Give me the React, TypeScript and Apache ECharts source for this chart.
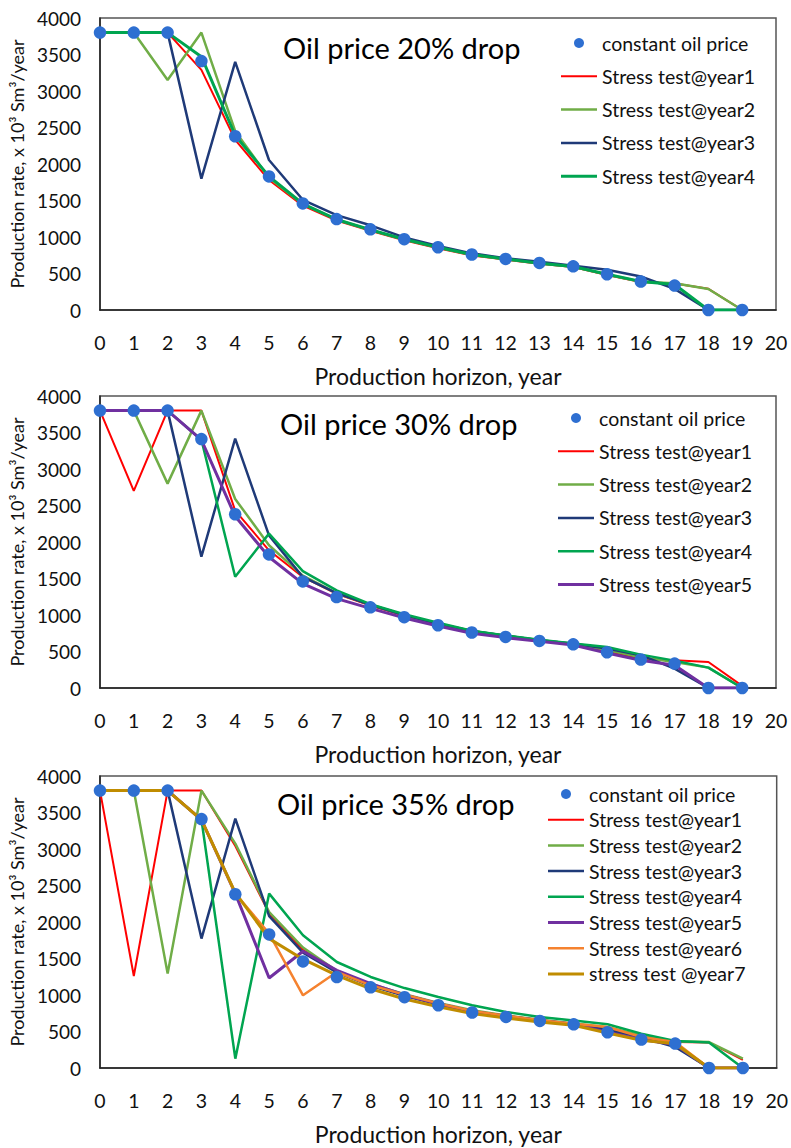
import React, { useEffect, useRef } from "react";
import * as echarts from "echarts";

const years = [0, 1, 2, 3, 4, 5, 6, 7, 8, 9, 10, 11, 12, 13, 14, 15, 16, 17, 18, 19];
const constantPrice = [3800, 3800, 3800, 3410, 2380, 1830, 1460, 1245, 1105, 970, 860, 760, 700, 645, 598, 490, 390, 335, 0, 0];

// Oil price 20% drop
const p20Year1 = [3800, 3800, 3800, 3290, 2330, 1780, 1430, 1225, 1085, 955, 845, 748, 690, 632, 588, 478, 382, 362, 290, 0];
const p20Year2 = [3800, 3800, 3150, 3800, 2450, 1810, 1450, 1240, 1095, 965, 855, 755, 695, 640, 592, 485, 388, 365, 288, 0];
const p20Year3 = [3800, 3800, 3800, 1800, 3400, 2055, 1510, 1300, 1160, 995, 877, 776, 708, 662, 607, 551, 459, 290, 0, 0];
const p20Year4 = [3800, 3800, 3800, 3470, 2390, 1830, 1455, 1240, 1100, 970, 860, 760, 700, 640, 595, 490, 392, 350, 0, 0];

// Oil price 30% drop
const p30Year1 = [3800, 2700, 3800, 3800, 2430, 1886, 1521, 1290, 1130, 990, 875, 770, 710, 650, 600, 505, 400, 379, 356, 30];
const p30Year2 = [3800, 3800, 2800, 3800, 2590, 1955, 1540, 1300, 1140, 1000, 880, 780, 715, 655, 605, 520, 420, 356, 279, 0];
const p30Year3 = [3800, 3800, 3800, 1800, 3416, 2091, 1521, 1300, 1140, 1000, 880, 780, 715, 655, 605, 540, 450, 265, 0, 0];
const p30Year4 = [3800, 3800, 3800, 3400, 1525, 2115, 1600, 1338, 1147, 1010, 895, 785, 720, 660, 610, 562, 457, 375, 279, 0];
const p30Year5 = [3800, 3800, 3800, 3400, 2352, 1795, 1430, 1225, 1090, 960, 850, 750, 690, 640, 590, 479, 380, 311, 0, 0];

// Oil price 35% drop
const p35Year1 = [3800, 1260, 3800, 3800, 3040, 2120, 1620, 1320, 1140, 1000, 880, 780, 715, 655, 605, 550, 440, 355, 350, 110];
const p35Year2 = [3800, 3800, 1293, 3800, 3074, 2137, 1650, 1330, 1150, 1010, 890, 790, 720, 660, 610, 560, 450, 365, 356, 128];
const p35Year3 = [3800, 3800, 3800, 1773, 3416, 2080, 1580, 1310, 1125, 990, 870, 775, 710, 650, 600, 520, 420, 288, 0, 0];
const p35Year4 = [3800, 3800, 3800, 3400, 128, 2389, 1818, 1452, 1247, 1095, 973, 859, 767, 699, 650, 600, 471, 370, 348, 0];
const p35Year5 = [3800, 3800, 3800, 3400, 2389, 1233, 1599, 1338, 1156, 1000, 880, 775, 710, 650, 600, 490, 390, 320, 0, 0];
const p35Year6 = [3800, 3800, 3800, 3400, 2389, 1841, 996, 1315, 1133, 1005, 885, 780, 715, 655, 605, 562, 425, 356, 0, 0];
const p35Year7 = [3800, 3800, 3800, 3400, 2400, 1772, 1490, 1270, 1085, 945, 840, 745, 685, 630, 585, 479, 379, 333, 0, 0];

const panelTitles = ["Oil price 20% drop", "Oil price 30% drop", "Oil price 35% drop"];
const xTickValues = { min: 0, max: 20, interval: 1 };
const yTickValues = { min: 0, max: 4000, interval: 500 };
const xAxisTitle = "Production horizon, year";
const yAxisTitle = "Production rate, x 10\u00B3 Sm\u00B3/year";

const CONST_NAME = "constant oil price";
const colors: Record<string, string> = {
  "Stress test@year1": "#FF0000",
  "Stress test@year2": "#70AD47",
  "Stress test@year3": "#1F3A78",
  "Stress test@year4": "#00A550",
  "Stress test@year5": "#7030A0",
  "Stress test@year6": "#F5822F",
  "stress test @year7": "#C08C00",
};

const panels = [
  {
    lines: [
      ["Stress test@year1", p20Year1, 2],
      ["Stress test@year2", p20Year2, 2.5],
      ["Stress test@year3", p20Year3, 2.5],
      ["Stress test@year4", p20Year4, 3],
    ],
  },
  {
    lines: [
      ["Stress test@year1", p30Year1, 2],
      ["Stress test@year2", p30Year2, 2.5],
      ["Stress test@year3", p30Year3, 2.5],
      ["Stress test@year4", p30Year4, 2.5],
      ["Stress test@year5", p30Year5, 3],
    ],
  },
  {
    lines: [
      ["Stress test@year1", p35Year1, 2],
      ["Stress test@year2", p35Year2, 2.5],
      ["Stress test@year3", p35Year3, 2.5],
      ["Stress test@year4", p35Year4, 2.5],
      ["Stress test@year5", p35Year5, 3],
      ["Stress test@year6", p35Year6, 2.5],
      ["stress test @year7", p35Year7, 3],
    ],
  },
];

const FONT = "Lato, 'Open Sans', sans-serif";

export default function App() {
  const ref = useRef<HTMLDivElement>(null);
  useEffect(() => {
    if (!ref.current) return;
    const chart = echarts.init(ref.current, null, { renderer: "svg" });

    const grids = [
      { left: 100, top: 18, width: 676, height: 292 },
      { left: 99, top: 396, width: 677, height: 292 },
      { left: 96, top: 776, width: 681, height: 292 },
    ];
    const titlePos = [
      [283, 47],
      [280, 423],
      [277, 803],
    ];
    const legendPos = [
      { left: 561, top: 33, itemGap: 13.3 },
      { left: 558, top: 408, itemGap: 13.3 },
      { left: 548, top: 784, itemGap: 5.7 },
    ];

    const series: any[] = [];
    panels.forEach((p, i) => {
      p.lines.forEach(([name, data, w]: any) => {
        series.push({
          type: "line",
          name,
          xAxisIndex: i,
          yAxisIndex: i,
          data: years.map((y, k) => [y, data[k]]),
          symbol: "none",
          lineStyle: { color: colors[name], width: w },
          itemStyle: { color: colors[name] },
          z: 2,
        });
      });
      series.push({
        type: "scatter",
        name: CONST_NAME,
        xAxisIndex: i,
        yAxisIndex: i,
        data: years.map((y, k) => [y, constantPrice[k]]),
        symbol: "circle",
        symbolSize: 12.5,
        itemStyle: { color: "#2E6FD1", opacity: 1 },
        z: 5,
      });
    });

    const option: any = {
      animation: false,
      backgroundColor: "#fff",
      grid: grids.map((g) => ({
        ...g,
        show: true,
        borderColor: "#555",
        borderWidth: 1.5,
        containLabel: false,
      })),
      xAxis: grids.map((_, i) => ({
        type: "value",
        gridIndex: i,
        min: xTickValues.min,
        max: xTickValues.max,
        interval: xTickValues.interval,
        axisLine: { show: true, onZero: false, lineStyle: { color: "#222", width: 1.5 } },
        axisTick: { show: false },
        splitLine: { show: false },
        axisLabel: { fontSize: 19.5, color: "#111", margin: 22, fontFamily: FONT },
        name: xAxisTitle,
        nameLocation: "middle",
        nameGap: 54,
        nameTextStyle: { fontSize: 23, color: "#111", fontFamily: FONT },
      })),
      yAxis: grids.map((_, i) => ({
        type: "value",
        gridIndex: i,
        min: yTickValues.min,
        max: yTickValues.max,
        interval: yTickValues.interval,
        axisLine: { show: true, lineStyle: { color: "#222", width: 1.5 } },
        axisTick: { show: false },
        splitLine: { show: false },
        axisLabel: {
          fontSize: 19,
          color: "#111",
          margin: 19,
          fontFamily: FONT,
          formatter: (v: number) => String(v),
        },
        name: yAxisTitle,
        nameLocation: "middle",
        nameGap: 62,
        nameTextStyle: { fontSize: 18, color: "#111", fontFamily: FONT },
      })),
      legend: panels.map((p, i) => ({
        orient: "vertical",
        left: legendPos[i].left,
        top: legendPos[i].top,
        itemGap: legendPos[i].itemGap,
        itemWidth: 36,
        itemHeight: 10,
        padding: 0,
        selectedMode: false,
        textStyle: { fontSize: 19.5, color: "#111", fontFamily: FONT, lineHeight: 20 },
        data: [
          { name: CONST_NAME, icon: "circle" },
          ...p.lines.map(([name, , w]: any) => ({
            name,
            icon: `path://M0,0H36V${w}H0Z`,
          })),
        ],
      })),
      graphic: panelTitles.map((t, i) => ({
        type: "text",
        x: titlePos[i][0],
        y: titlePos[i][1],
        style: {
          text: t,
          fontSize: 29,
          fontFamily: FONT,
          fill: "#000",
          verticalAlign: "middle",
        },
      })),
      series,
    };
    chart.setOption(option);
    return () => chart.dispose();
  }, []);

  return (
    <div
      ref={ref}
      style={{ position: "fixed", left: 0, top: 0, width: 791, height: 1148 }}
    />
  );
}
